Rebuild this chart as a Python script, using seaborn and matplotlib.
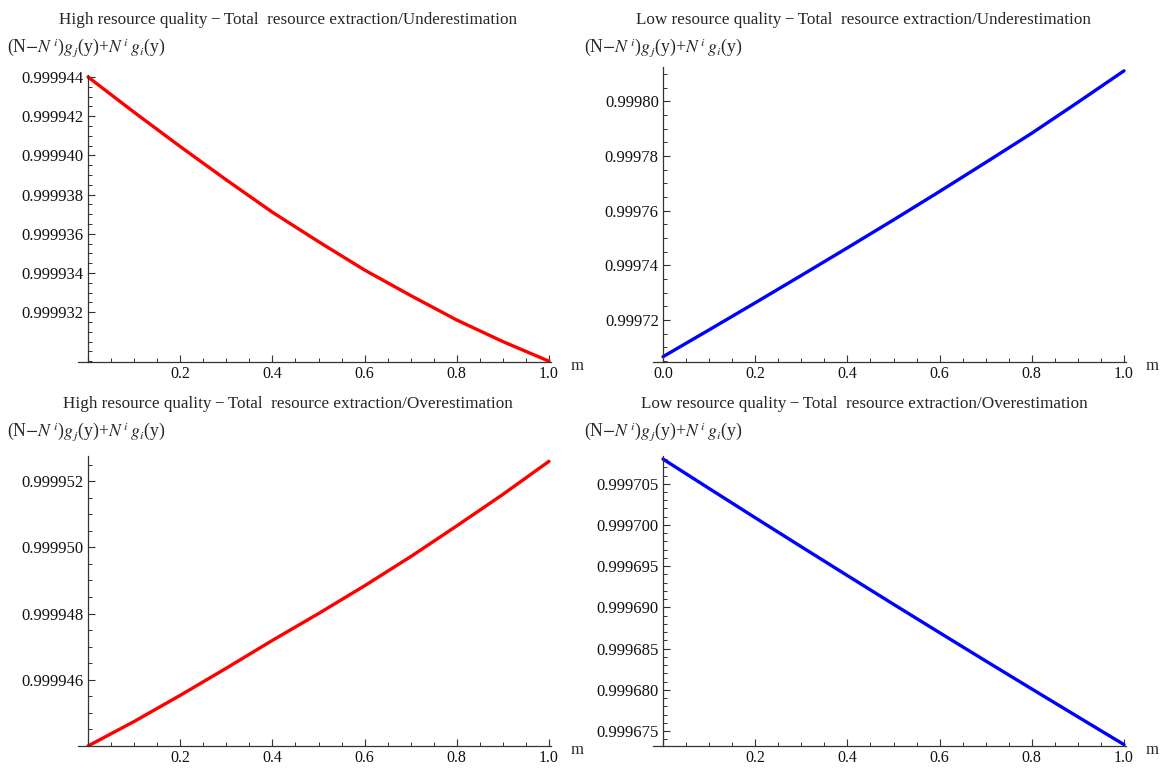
import matplotlib
matplotlib.use("Agg")
import matplotlib.pyplot as plt
import seaborn as sns
from matplotlib.ticker import FixedLocator, MultipleLocator, FuncFormatter

# values (m from 0 to 1 in steps of 0.1)
m = [0.0, 0.1, 0.2, 0.3, 0.4, 0.5, 0.6, 0.7, 0.8, 0.9, 1.0]

high_under = [0.9999440, 0.9999422, 0.99994045, 0.99993875, 0.9999371, 0.9999356,
              0.99993415, 0.99993285, 0.9999316, 0.9999305, 0.9999295]
low_under = [0.9997066, 0.9997164, 0.9997263, 0.9997363, 0.9997464, 0.9997566,
             0.9997670, 0.9997776, 0.9997883, 0.9997996, 0.9998111]
high_over = [0.9999440, 0.99994474, 0.99994553, 0.99994635, 0.99994719, 0.9999480,
             0.99994884, 0.99994972, 0.99995065, 0.9999516, 0.9999526]
low_over = [0.9997080, 0.99970443, 0.99970088, 0.99969736, 0.99969386, 0.99969038,
            0.99968693, 0.9996835, 0.9996801, 0.99967672, 0.99967335]

titles = [
    "High resource quality\u2009\u2212\u2009Total  resource extraction/Underestimation",
    "Low resource quality\u2009\u2212\u2009Total  resource extraction/Underestimation",
    "High resource quality\u2009\u2212\u2009Total  resource extraction/Overestimation",
    "Low resource quality\u2009\u2212\u2009Total  resource extraction/Overestimation",
]
ylabel = r"(N$-$$N^{\,i}$)$g_{\,j}$(y)+$N^{\,i}\,g_i$(y)"

y_major = [
    [0.999932, 0.999934, 0.999936, 0.999938, 0.999940, 0.999942, 0.999944],
    [0.99972, 0.99974, 0.99976, 0.99978, 0.99980],
    [0.999946, 0.999948, 0.999950, 0.999952],
    [0.999675, 0.999680, 0.999685, 0.999690, 0.999695, 0.999700, 0.999705],
]
y_minor = [5e-7, 5e-6, 5e-7, 1e-6]
y_decimals = [6, 5, 6, 6]
y_limits = [
    (0.99992946, 0.9999441),
    (0.99970466, 0.9998125),
    (0.999944, 0.99995276),
    (0.99967318, 0.99970837),
]
show_zero = [False, True, False, False]
series = [high_under, low_under, high_over, low_over]
colors = ["#ff0000", "#0000ff", "#ff0000", "#0000ff"]

sns.set_theme(style="white")
plt.rcParams["font.family"] = ["Liberation Serif", "DejaVu Serif"]
plt.rcParams["mathtext.fontset"] = "stix"

W, H = 1161, 769
fig = plt.figure(figsize=(W / 100, H / 100), dpi=100)

# pixel boxes: (y axis x, x axis y, top of y axis)
boxes = [(88, 362, 75), (663, 362, 67), (88, 746, 456), (663, 746, 456)]
unit = 461.0
x_lo, x_hi = -0.022, 1.005

for i, (yx, xy, top) in enumerate(boxes):
    left = yx + x_lo * unit
    width = (x_hi - x_lo) * unit
    ax = fig.add_axes([left / W, 1 - xy / H, width / W, (xy - top) / H])
    sns.lineplot(x=m, y=series[i], ax=ax, color=colors[i], linewidth=2.4)
    ax.set_xlim(x_lo, x_hi)
    ax.set_ylim(*y_limits[i])
    ax.spines["left"].set_position(("data", 0))
    for s in ["top", "right"]:
        ax.spines[s].set_visible(False)
    for s in ["left", "bottom"]:
        ax.spines[s].set_color("#333333")
        ax.spines[s].set_linewidth(0.9)

    ax.xaxis.set_major_locator(FixedLocator([0, 0.2, 0.4, 0.6, 0.8, 1.0]))
    ax.xaxis.set_minor_locator(FixedLocator([k * 0.05 for k in range(21)]))
    zero = show_zero[i]
    ax.xaxis.set_major_formatter(FuncFormatter(
        lambda v, p, z=zero: ("%.1f" % v) if (abs(v) > 1e-9 or z) else ""))
    ax.yaxis.set_major_locator(FixedLocator(y_major[i]))
    ax.yaxis.set_minor_locator(MultipleLocator(y_minor[i]))
    d = y_decimals[i]
    ax.yaxis.set_major_formatter(FuncFormatter(lambda v, p, d=d: f"{v:.{d}f}"))
    ax.tick_params(which="both", direction="in", color="#333333", labelsize=12,
                   labelcolor="#111111", bottom=True, left=True)
    ax.tick_params(axis="x", labelsize=11.5)
    ax.tick_params(which="major", length=5, width=0.8)
    ax.tick_params(axis="x", which="major", pad=3)
    ax.tick_params(axis="y", which="major", pad=3)
    ax.tick_params(which="minor", length=2.8, width=0.7)
    ax.set_xlabel("")
    ax.set_ylabel("")

    cx = 288 if i % 2 == 0 else 864
    ty = 20 if i < 2 else 404
    fig.text(cx / W, 1 - ty / H, titles[i], ha="center", va="center", fontsize=12.3)
    lx = 7 if i % 2 == 0 else 584
    fig.text(lx / W, 1 - (ty + 28) / H, ylabel, ha="left", va="center", fontsize=12.8)
    fig.text((yx + 1.06 * unit) / W, 1 - (xy + 4) / H, "m", ha="center", va="center",
             fontsize=12)

fig.savefig("out.png", dpi=100)
